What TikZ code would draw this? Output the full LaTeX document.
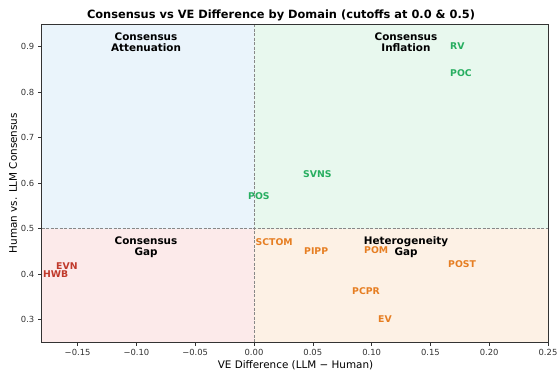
\documentclass[tikz,border=0pt]{standalone}
\usepackage{fontspec}
\setmainfont{DejaVu Sans}
\definecolor{bgblue}{HTML}{EAF4FB}
\definecolor{bggreen}{HTML}{E8F8EE}
\definecolor{bgred}{HTML}{FCEAEA}
\definecolor{bgorange}{HTML}{FDF1E5}
\definecolor{tgreen}{HTML}{27AE60}
\definecolor{tred}{HTML}{C0392B}
\definecolor{torange}{HTML}{E67E22}
\definecolor{cutgray}{HTML}{888888}
\tikzset{
  pt/.style={font=\fontsize{9.3}{10}\selectfont\bfseries, inner sep=0pt, anchor=west},
  gpt/.style={pt, text=tgreen},
  rpt/.style={pt, text=tred},
  opt/.style={pt, text=torange},
  region/.style={font=\fontsize{10.4}{11.2}\selectfont\bfseries, align=center, inner sep=0pt},
  tick/.style={font=\fontsize{8.4}{9}\selectfont, text=black!80, inner sep=0pt},
  axlabel/.style={font=\fontsize{10.4}{11}\selectfont, inner sep=0pt},
  cut/.style={cutgray, line width=0.8pt, dash pattern=on 3pt off 1.5pt},
}
\begin{document}
\begin{tikzpicture}[x=1pt,y=-1pt]
\useasboundingbox (0,0) rectangle (557,372);
% quadrant backgrounds
\fill[bgblue]   (41.5,24) rectangle (254,228.5);
\fill[bggreen]  (254,24) rectangle (548,228.5);
\fill[bgred]    (41.5,228.5) rectangle (254,342);
\fill[bgorange] (254,228.5) rectangle (548,342);
% cutoffs
\draw[cut] (254,24) -- (254,342);
\draw[cut] (41.5,228.5) -- (548,228.5);
% frame
\draw[line width=0.8pt, black!80] (41.5,24) rectangle (548,342);
% x ticks
\foreach \v/\t in {-0.15/−0.15,-0.10/−0.10,-0.05/−0.05,0.00/0.00,0.05/0.05,0.10/0.10,0.15/0.15,0.20/0.20,0.25/0.25}{
  \pgfmathsetmacro{\px}{254+\v*1176}
  \draw[black!80, line width=0.6pt] (\px,342) -- (\px,345.5);
  \node[tick] (xt) at (\px,352.5) {\t};
}
% y ticks
\foreach \v in {0.3,0.4,0.5,0.6,0.7,0.8,0.9}{
  \pgfmathsetmacro{\py}{228.5-(\v-0.5)*455}
  \draw[black!80, line width=0.6pt] (41.5,\py) -- (38,\py);
  \node[tick, anchor=east] (yt) at (34.5,\py) {\v};
}
% axis labels and title
\node[axlabel] (xlab) at (295.5,365) {VE Difference (LLM − Human)};
\node[axlabel, rotate=90] (ylab) at (13,183) {Human vs. LLM Consensus};
\node[font=\fontsize{11.4}{12}\selectfont\bfseries, inner sep=0pt] (title) at (281,15) {Consensus vs VE Difference by Domain (cutoffs at 0.0 \& 0.5)};
% region labels
\node[region] (ra) at (146,42.5) {Consensus\\Attenuation};
\node[region] (ri) at (406,42.5) {Consensus\\Inflation};
\node[region] (rg) at (146,247.5) {Consensus\\Gap};
\node[region] (rh) at (406,247.5) {Heterogeneity\\Gap};
% data labels
\node[gpt] (rv)    at (450,46.5)  {RV};
\node[gpt] (poc)   at (450,73.5)  {POC};
\node[gpt] (svns)  at (303,174.5) {SVNS};
\node[gpt] (pos)   at (248,196)   {POS};
\node[opt] (sctom) at (255.5,242.5) {SCTOM};
\node[opt] (pipp)  at (304,251.5) {PIPP};
\node[opt] (pom)   at (364,250.5) {POM};
\node[opt] (post)  at (448,264)   {POST};
\node[opt] (pcpr)  at (352,291)   {PCPR};
\node[opt] (ev)    at (378,319)   {EV};
\node[rpt] (evn)   at (56,266)    {EVN};
\node[rpt] (hwb)   at (43,274)    {HWB};
\end{tikzpicture}
\end{document}
